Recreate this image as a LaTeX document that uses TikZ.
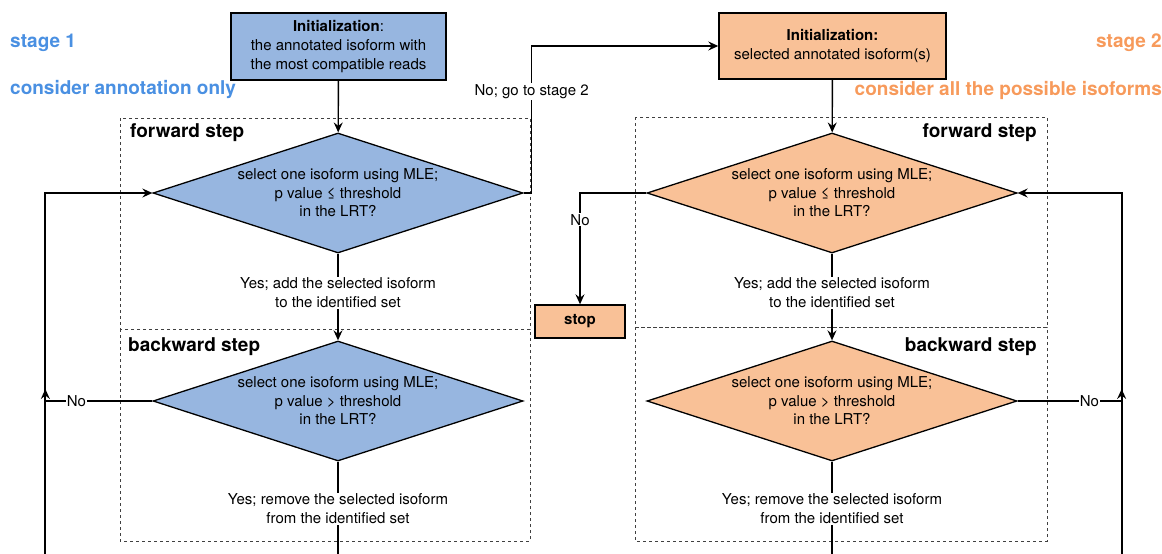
\documentclass[tikz,border=0pt]{standalone}
\usepackage{fontspec}
\setmainfont{TeX Gyre Heros}
\usetikzlibrary{shapes.geometric,arrows.meta}

\definecolor{stageblue}{HTML}{4A90E2}
\definecolor{stageorange}{HTML}{F79A5B}
\definecolor{boxblue}{HTML}{97B6E0}
\definecolor{boxorange}{HTML}{F9C197}

\tikzset{
  initbox/.style={rectangle, draw, line width=1.4pt, align=center, inner sep=0pt,
    font=\fontsize{15}{19}\selectfont},
  decision/.style={diamond, draw, line width=1.3pt, aspect=3.08, inner sep=0pt,
    minimum width=370pt, minimum height=120pt, align=center,
    font=\fontsize{15}{18.5}\selectfont},
  stepbox/.style={draw=black!75, dashed, line width=0.7pt},
  steplabel/.style={inner sep=0pt, font=\fontsize{19}{22}\selectfont\bfseries},
  lbl/.style={fill=white, inner sep=1pt, align=center, font=\fontsize{15}{18.5}\selectfont},
  flow/.style={line width=1.4pt, -{Stealth[length=10pt,width=9pt,inset=3.5pt]}},
  plain/.style={line width=1.4pt},
}

\begin{document}
\begin{tikzpicture}[x=1pt,y=-1pt]
        \useasboundingbox (0,0) rectangle (1162,554);

        % stage headings
        \node[steplabel, anchor=west, text=stageblue] (stage1) at (10,43) {stage 1};
        \node[steplabel, anchor=west, text=stageblue] (stage1-note) at (10,90)
             {consider annotation only};
        \node[steplabel, anchor=east, text=stageorange] (stage2) at (1162,43) {stage 2};
        \node[steplabel, anchor=east, text=stageorange] (stage2-note) at (1162,90)
             {consider all the possible isoforms};

        % dashed step frames
        \draw[stepbox] (120,118) rectangle (530,329);
        \draw[stepbox] (120,329) rectangle (530,541);
        \draw[stepbox] (635,117) rectangle (1047,327);
        \draw[stepbox] (635,327) rectangle (1047,541);
        \node[steplabel, anchor=west] (fwd-label-left) at (130,132.5) {forward step};
        \node[steplabel, anchor=west] (bwd-label-left) at (128,346.5) {backward step};
        \node[steplabel, anchor=east] (fwd-label-right) at (1037,132.5) {forward step};
        \node[steplabel, anchor=east] (bwd-label-right) at (1037,346.5) {backward step};

        % stage 1
        \node[initbox, fill=boxblue, minimum width=215pt, minimum height=67pt] (init-left)
             at (338.5,46.5) {\textbf{Initialization}:\\the annotated isoform with\\the most compatible reads};
        \node[decision, fill=boxblue] (fwd-left) at (338,193)
             {select one isoform using MLE;\\p value ≤ threshold\\in the LRT?};
        \node[decision, fill=boxblue] (bwd-left) at (338,401)
             {select one isoform using MLE;\\p value > threshold\\in the LRT?};
        \coordinate (loop-left) at (45,554);
        \coordinate (end-left) at (338,554);

        % stage 2
        \node[initbox, fill=boxorange, minimum width=227pt, minimum height=66pt] (init-right)
             at (832.5,46) {\textbf{Initialization:}\\selected annotated isoform(s)};
        \node[decision, fill=boxorange] (fwd-right) at (832,193)
             {select one isoform using MLE;\\p value ≤ threshold\\in the LRT?};
        \node[decision, fill=boxorange] (bwd-right) at (832,401)
             {select one isoform using MLE;\\p value > threshold\\in the LRT?};
        \node[initbox, fill=boxorange, minimum width=90pt, minimum height=33pt,
             font=\fontsize{15}{19}\selectfont\bfseries] (stop) at (580,321.5) {stop};
        \coordinate (loop-right) at (1122,554);
        \coordinate (end-right) at (832,554);

        % connectors, stage 1
        \draw[flow] (init-left) to (fwd-left);
        \draw[flow] (fwd-left.south) -- node[lbl, pos=0.45]
             {Yes; add the selected isoform\\to the identified set} (bwd-left.north);
        \draw[plain] (bwd-left.south) -- node[lbl, pos=0.51]
             {Yes; remove the selected isoform\\from the identified set} (end-left);
        \draw[flow] (loop-left) |- (fwd-left.west);
        \draw[flow] (bwd-left.west) -- node[lbl, pos=0.71] {No} ++(-107,0) -- ++(0,-12);
        \draw[flow] (fwd-left.east) -- ++(8,0) |- node[lbl, pos=0.345] {No; go to stage 2}
             (init-right.west);

        % connectors, stage 2
        \draw[flow] (init-right) to (fwd-right);
        \draw[flow] (fwd-right.south) -- node[lbl, pos=0.45]
             {Yes; add the selected isoform\\to the identified set} (bwd-right.north);
        \draw[plain] (bwd-right.south) -- node[lbl, pos=0.51]
             {Yes; remove the selected isoform\\from the identified set} (end-right);
        \draw[flow] (loop-right) |- (fwd-right.east);
        \draw[flow] (bwd-right.east) -- node[lbl, pos=0.69] {No} ++(104,0) -- ++(0,-12);
        \draw[flow] (fwd-right.west) -| node[lbl, pos=0.62] {No} (stop.north);
\end{tikzpicture}
\end{document}
